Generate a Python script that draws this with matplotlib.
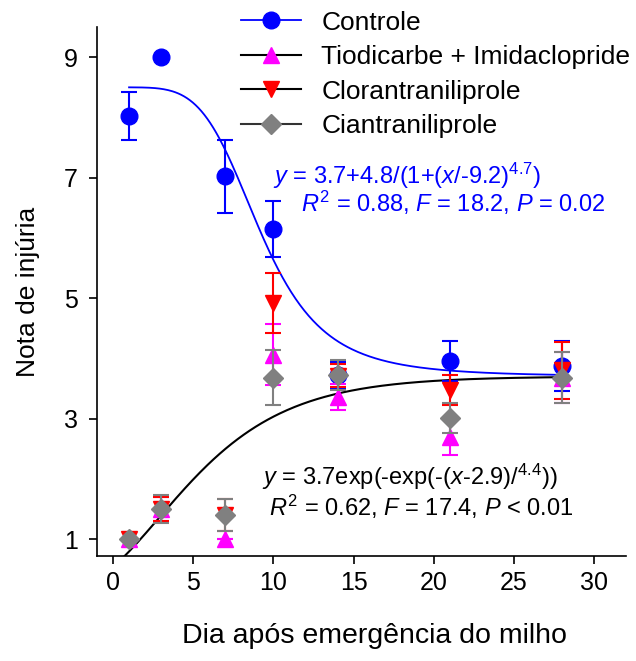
import numpy as np
import matplotlib
matplotlib.use("Agg")
import matplotlib.pyplot as plt
from matplotlib.lines import Line2D

plt.rcParams['font.family'] = ['Liberation Sans', 'DejaVu Sans']
plt.rcParams['mathtext.fontset'] = 'custom'
plt.rcParams['mathtext.rm'] = 'Liberation Sans'
plt.rcParams['mathtext.it'] = 'Liberation Sans:italic'

days = [1, 3, 7, 10, 14, 21, 28]

controle = [8.02, 9.0, 7.02, 6.15, 3.72, 3.96, 3.87]
controle_err = [0.40, 0.0, 0.60, 0.47, 0.22, 0.33, 0.42]

tiodicarbe = [1.0, 1.5, 1.0, 4.06, 3.36, 2.7, 3.68]
tiodicarbe_err = [0.0, 0.2, 0.0, 0.51, 0.22, 0.3, 0.42]

cloran = [1.0, 1.5, 1.4, 4.92, 3.71, 3.47, 3.8]
cloran_err = [0.0, 0.2, 0.26, 0.5, 0.19, 0.25, 0.47]

cian = [1.0, 1.5, 1.4, 3.68, 3.72, 3.01, 3.68]
cian_err = [0.0, 0.23, 0.27, 0.46, 0.25, 0.25, 0.42]

labels = ["Controle", "Tiodicarbe + Imidaclopride", "Clorantraniliprole", "Ciantraniliprole"]

fig = plt.figure(figsize=(6.36, 6.61), dpi=100)
ax = fig.add_axes([0.1525, 0.159, 0.832, 0.8])

# fitted curves
xf = np.linspace(1, 28, 300)
y_ctrl = 3.7 + 4.8 / (1 + (xf / 9.2) ** 4.7)
ax.plot(xf, y_ctrl, color='blue', lw=1.3, zorder=2)
xg = np.linspace(0, 28, 300)
y_trt = 3.7 * np.exp(-np.exp(-(xg - 2.9) / 4.4))
ax.plot(xg, y_trt, color='black', lw=1.5, zorder=2)

series = [
    (controle, controle_err, 'o', 'blue', 12),
    (tiodicarbe, tiodicarbe_err, '^', 'magenta', 11),
    (cloran, cloran_err, 'v', 'red', 11),
    (cian, cian_err, 'D', 'gray', 10),
]
for i, (vals, err, mk, col, ms) in enumerate(series):
    ax.errorbar(days, vals, yerr=err, fmt=mk, color=col, ms=ms, mec=col,
                capsize=6, elinewidth=1.5, capthick=1.5, zorder=3 + i)

ax.set_xlim(-1, 32)
ax.set_ylim(0.72, 9.5)
ax.set_xticks([0, 5, 10, 15, 20, 25, 30])
ax.set_yticks([1, 3, 5, 7, 9])
ax.spines['top'].set_visible(False)
ax.spines['right'].set_visible(False)
ax.tick_params(labelsize=18, length=6, width=1.2, direction='out', pad=5)
ax.tick_params(axis='y', pad=8)
for s in ['left', 'bottom']:
    ax.spines[s].set_linewidth(1.2)

ax.set_xlabel("Dia após emergência do milho", fontsize=20.5, labelpad=20, x=0.524)
ax.set_ylabel("Nota de injúria", fontsize=19, labelpad=17)

ax.text(9.97, 7.03, r"$y$ = 3.7+4.8/(1+($x$/-9.2)$^{4.7}$)", color='blue',
        fontsize=17, va='center', ha='left')
ax.text(11.75, 6.58, r"$R^2$ = 0.88, $F$ = 18.2, $P$ = 0.02", color='blue',
        fontsize=17, va='center', ha='left')
ax.text(9.3, 2.03, r"$y$ = 3.7exp(-exp(-($x$-2.9)/$^{4.4}$))", color='black',
        fontsize=17, va='center', ha='left')
ax.text(9.75, 1.53, r"$R^2$ = 0.62, $F$ = 17.4, $P$ < 0.01", color='black',
        fontsize=17, va='center', ha='left')

handles = [
    Line2D([], [], color='blue', lw=1.3, marker='o', ms=12, mfc='blue', mec='blue'),
    Line2D([], [], color='black', lw=1.5, marker='^', ms=11, mfc='magenta', mec='magenta'),
    Line2D([], [], color='black', lw=1.5, marker='v', ms=11, mfc='red', mec='red'),
    Line2D([], [], color='#333333', lw=1.5, marker='D', ms=10, mfc='gray', mec='gray'),
]
fig.legend(handles, labels, loc='upper left', bbox_to_anchor=(0.362, 1.0),
           frameon=False, fontsize=19, handlelength=2.3, handletextpad=0.75,
           labelspacing=0.4, borderaxespad=0)

fig.savefig("out.png", dpi=100)
